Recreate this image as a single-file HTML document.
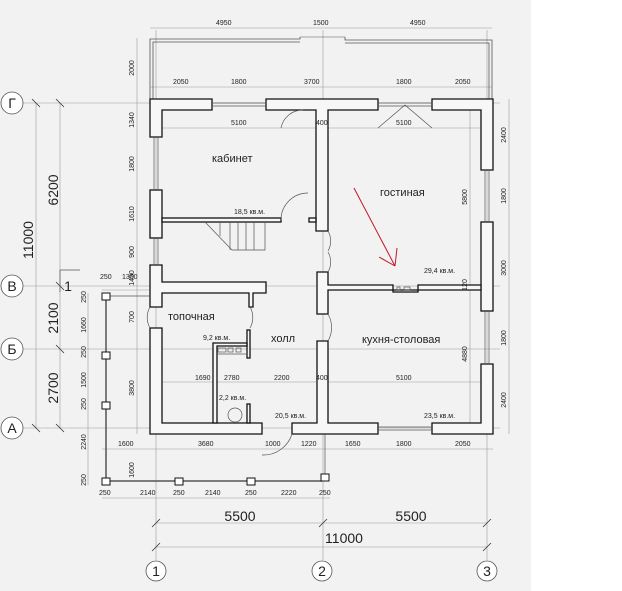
<!DOCTYPE html>
<html><head><meta charset="utf-8"><style>
html,body{margin:0;padding:0;background:#fff}
svg{display:block}
text{font-family:"Liberation Sans",sans-serif;fill:#222}
.d{font-size:7px}
.r{font-size:11px}
.b{font-size:14px}
</style></head><body>
<svg width="622" height="591" viewBox="0 0 622 591" xmlns="http://www.w3.org/2000/svg">
<rect x="0" y="0" width="531" height="591" fill="#f2f2f2"/>
<g stroke="#999" stroke-width="0.6" fill="none">
<line x1="22" y1="103" x2="500" y2="103"/>
<line x1="22" y1="286" x2="500" y2="286"/>
<line x1="22" y1="349" x2="500" y2="349"/>
<line x1="22" y1="428" x2="500" y2="428"/>
<line x1="156" y1="30" x2="156" y2="560"/>
<line x1="323" y1="30" x2="323" y2="560"/>
<line x1="487" y1="30" x2="487" y2="560"/>
<line x1="36" y1="103" x2="36" y2="428"/>
<line x1="60" y1="103" x2="60" y2="428"/>
<line x1="137" y1="38" x2="137" y2="434"/>
<line x1="88" y1="293" x2="88" y2="485"/>
<line x1="150" y1="28" x2="492" y2="28"/>
<line x1="150" y1="87" x2="492" y2="87"/>
<line x1="162" y1="128" x2="481" y2="128"/>
<line x1="162" y1="382" x2="481" y2="382"/>
<line x1="102" y1="449" x2="493" y2="449"/>
<line x1="102" y1="498" x2="330" y2="498"/>
<line x1="156" y1="523" x2="487" y2="523"/>
<line x1="156" y1="547" x2="487" y2="547"/>
<line x1="509" y1="99" x2="509" y2="434"/>
<line x1="470" y1="110" x2="470" y2="423"/>
<line x1="102" y1="290" x2="150" y2="290"/>
</g>
<g stroke="#333" stroke-width="0.8">
<line x1="152" y1="527" x2="160" y2="519"/><line x1="319" y1="527" x2="327" y2="519"/><line x1="483" y1="527" x2="491" y2="519"/>
<line x1="152" y1="551" x2="160" y2="543"/><line x1="483" y1="551" x2="491" y2="543"/>
<line x1="32" y1="99" x2="40" y2="107"/><line x1="56" y1="99" x2="64" y2="107"/>
<line x1="56" y1="282" x2="64" y2="290"/><line x1="56" y1="345" x2="64" y2="353"/>
<line x1="32" y1="424" x2="40" y2="432"/><line x1="56" y1="424" x2="64" y2="432"/>
</g>
<g fill="#fff" stroke="#555" stroke-width="0.8">
<circle cx="12" cy="103" r="11"/><circle cx="12" cy="286" r="11"/><circle cx="12" cy="349" r="11"/><circle cx="12" cy="428" r="11"/>
<circle cx="156" cy="571" r="10"/><circle cx="322" cy="571" r="10"/><circle cx="487" cy="571" r="10"/>
</g>
<g class="b" text-anchor="middle">
<text x="12" y="108">Г</text><text x="12" y="291">В</text><text x="12" y="354">Б</text><text x="12" y="433">А</text>
<text x="156" y="576">1</text><text x="322" y="576">2</text><text x="487" y="576">3</text>
<text x="68" y="291">1</text>
<text x="240" y="521">5500</text><text x="411" y="521">5500</text><text x="344" y="543">11000</text>
<text transform="translate(58,190) rotate(-90)">6200</text>
<text transform="translate(33,240) rotate(-90)">11000</text>
<text transform="translate(58,318) rotate(-90)">2100</text>
<text transform="translate(58,388) rotate(-90)">2700</text>
</g>
<g stroke="#555" stroke-width="0.8" fill="none">
<polyline points="150,99 150,39 300,39 300,37"/>
<polyline points="153,99 153,42 300,42"/>
<polyline points="345,37 345,40 492,40 492,99"/>
<polyline points="345,43 489,43 489,99"/>
<line x1="300" y1="37" x2="345" y2="37" stroke-width="0.6"/>
</g>
<g fill="#f7f7f7" stroke="#111" stroke-width="1.3">
<path d="M150,99 H212 V110 H162 V137 H150 Z"/>
<path d="M266,99 H378 V110 H328 V231 H316 V110 H266 Z"/>
<path d="M432,99 H493 V170 H481 V110 H432 Z"/>
<rect x="150" y="190" width="12" height="48"/>
<path d="M150,265 H162 V282 H266 V293 H253 V307 H249 V293 H162 V307 H150 Z"/>
<path d="M150,328 H162 V423 H262 V434 H150 Z"/>
<rect x="162" y="218" width="119" height="4"/>
<rect x="309" y="218" width="7" height="4"/>
<rect x="481" y="222" width="12" height="89"/>
<path d="M317,272 H328 V285 H393 V292 H418 V285 H481 V290 H328 V314 H317 Z"/>
<path d="M317,341 H328 V423 H378 V434 H292 V423 H317 Z"/>
<path d="M481,364 H493 V434 H432 V423 H481 Z"/>
<rect x="247" y="330" width="3" height="28"/>
<rect x="247" y="404" width="3" height="19"/>
<path d="M213,343 H247 V346 H217 V423 H213 Z"/>
</g>
<g fill="none" stroke="#555" stroke-width="0.7">
<line x1="217" y1="354" x2="246" y2="354"/>
<rect x="218" y="348" width="8" height="4"/><rect x="228" y="348" width="5" height="4"/><rect x="236" y="348" width="5" height="4"/>
<rect x="397" y="287" width="3" height="3"/><rect x="404" y="287" width="6" height="3"/>
<line x1="212" y1="103" x2="266" y2="103"/><line x1="212" y1="106" x2="266" y2="106"/>
<line x1="378" y1="103" x2="432" y2="103"/><line x1="378" y1="106" x2="432" y2="106"/>
<line x1="154" y1="137" x2="154" y2="190"/><line x1="158" y1="137" x2="158" y2="190"/>
<line x1="154" y1="238" x2="154" y2="265"/><line x1="158" y1="238" x2="158" y2="265"/>
<line x1="485" y1="170" x2="485" y2="222"/><line x1="489" y1="170" x2="489" y2="222"/>
<line x1="485" y1="311" x2="485" y2="364"/><line x1="489" y1="311" x2="489" y2="364"/>
<line x1="378" y1="427" x2="432" y2="427"/><line x1="378" y1="430" x2="432" y2="430"/>
<path d="M281,220 A27,27 0 0 1 308,193"/>
<path d="M328,231 A20,20 0 0 1 328,251 M328,252 A20,20 0 0 1 328,272"/>
<path d="M250,307 A21,21 0 0 1 250,328"/>
<path d="M150,307 A21,21 0 0 0 150,328"/>
<path d="M328,314 A27,27 0 0 1 328,341"/>
<path d="M262,455 A30,30 0 0 0 292,434"/>
<path d="M281,128 A22,22 0 0 1 303,110"/>
<path d="M378,128 L405,105 L432,128"/>
<path d="M205,222 L232,250 H265 V222"/>
<line x1="220" y1="222" x2="220" y2="236"/><line x1="230" y1="222" x2="230" y2="250"/><line x1="238" y1="222" x2="238" y2="250"/><line x1="246" y1="222" x2="246" y2="250"/><line x1="254" y1="222" x2="254" y2="250"/>
<circle cx="235" cy="415" r="7"/>
<line x1="106" y1="300" x2="106" y2="478" stroke-width="1.5"/>
<line x1="110" y1="481" x2="322" y2="481" stroke-width="1.5"/>
<line x1="110" y1="296" x2="150" y2="296"/>
<line x1="325" y1="434" x2="325" y2="478"/>
<line x1="60" y1="292" x2="60" y2="270"/><line x1="60" y1="270" x2="80" y2="270"/>
</g>
<g fill="#fff" stroke="#111" stroke-width="1">
<rect x="102" y="293" width="8" height="7"/><rect x="102" y="352" width="8" height="7"/><rect x="102" y="402" width="8" height="7"/><rect x="102" y="478" width="8" height="7"/>
<rect x="175" y="478" width="8" height="7"/><rect x="247" y="478" width="8" height="7"/><rect x="321" y="474" width="8" height="7"/>
</g>
<g stroke="#c0182a" stroke-width="1" fill="none">
<line x1="354" y1="188" x2="395" y2="266"/><line x1="395" y1="266" x2="397" y2="248"/><line x1="395" y1="266" x2="379" y2="257"/>
</g>
<g class="r">
<text x="212" y="162">кабинет</text><text x="380" y="196">гостиная</text>
<text x="168" y="320">топочная</text><text x="271" y="342">холл</text>
<text x="362" y="343">кухня-столовая</text>
</g>
<g class="d">
<text x="234" y="214">18,5 кв.м.</text><text x="424" y="273">29,4 кв.м.</text>
<text x="203" y="340">9,2 кв.м.</text><text x="219" y="400">2,2 кв.м.</text>
<text x="275" y="418">20,5 кв.м.</text><text x="424" y="418">23,5 кв.м.</text>
<text x="216" y="25">4950</text><text x="313" y="25">1500</text><text x="410" y="25">4950</text>
<text x="173" y="84">2050</text><text x="231" y="84">1800</text><text x="304" y="84">3700</text><text x="396" y="84">1800</text><text x="455" y="84">2050</text>
<text x="231" y="125">5100</text><text x="316" y="125">400</text><text x="396" y="125">5100</text>
<text x="195" y="380">1690</text><text x="224" y="380">2780</text><text x="274" y="380">2200</text><text x="316" y="380">400</text><text x="396" y="380">5100</text>
<text x="118" y="446">1600</text><text x="198" y="446">3680</text><text x="265" y="446">1000</text><text x="301" y="446">1220</text><text x="345" y="446">1650</text><text x="396" y="446">1800</text><text x="455" y="446">2050</text>
<text x="99" y="495">250</text><text x="140" y="495">2140</text><text x="173" y="495">250</text><text x="205" y="495">2140</text><text x="245" y="495">250</text><text x="281" y="495">2220</text><text x="319" y="495">250</text>
<text x="100" y="279">250</text><text x="122" y="279">1350</text>
<g text-anchor="middle">
<text transform="translate(134,68) rotate(-90)">2000</text>
<text transform="translate(134,120) rotate(-90)">1340</text>
<text transform="translate(134,164) rotate(-90)">1800</text>
<text transform="translate(134,214) rotate(-90)">1610</text>
<text transform="translate(134,252) rotate(-90)">900</text>
<text transform="translate(134,278) rotate(-90)">1450</text>
<text transform="translate(134,317) rotate(-90)">700</text>
<text transform="translate(134,388) rotate(-90)">3800</text>
<text transform="translate(134,470) rotate(-90)">1600</text>
<text transform="translate(86,297) rotate(-90)">250</text>
<text transform="translate(86,325) rotate(-90)">1660</text>
<text transform="translate(86,352) rotate(-90)">250</text>
<text transform="translate(86,380) rotate(-90)">1500</text>
<text transform="translate(86,404) rotate(-90)">250</text>
<text transform="translate(86,442) rotate(-90)">2240</text>
<text transform="translate(86,480) rotate(-90)">250</text>
<text transform="translate(506,135) rotate(-90)">2400</text>
<text transform="translate(506,196) rotate(-90)">1800</text>
<text transform="translate(506,268) rotate(-90)">3000</text>
<text transform="translate(506,338) rotate(-90)">1800</text>
<text transform="translate(506,400) rotate(-90)">2400</text>
<text transform="translate(467,197) rotate(-90)">5800</text>
<text transform="translate(467,354) rotate(-90)">4880</text>
<text transform="translate(467,285) rotate(-90)">120</text>
</g>
</g>
</svg>
</body></html>
